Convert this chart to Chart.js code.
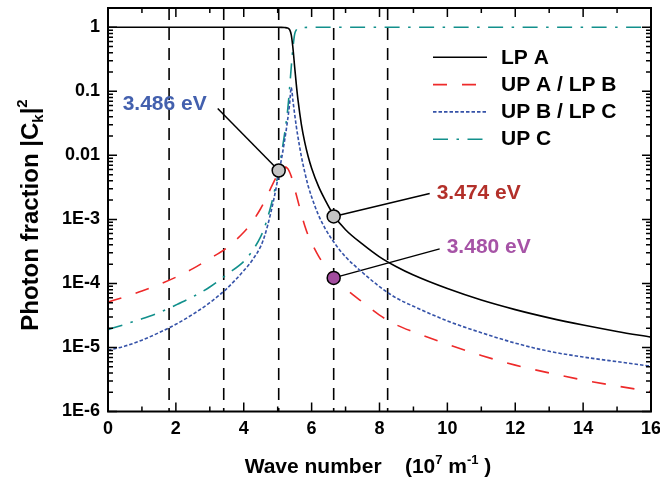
<!DOCTYPE html>
<html><head><meta charset="utf-8">
<script src="https://cdn.jsdelivr.net/npm/chart.js@4.4.1/dist/chart.umd.min.js"></script>
<style>html,body{margin:0;padding:0;background:#fff}#wrap{width:660px;height:480px}</style>
</head><body><div id="wrap"><canvas id="c" width="660" height="480"></canvas></div>
<script>
// ---------- data ----------
const X = [0, 0.5, 1, 1.5, 2, 2.5, 3, 3.5, 4, 4.25, 4.5, 4.6, 4.7, 4.8, 4.9, 5.0, 5.1, 5.2, 5.3, 5.35, 5.4, 5.45, 5.5, 5.55, 5.6, 5.7, 5.8, 5.9, 6.0, 6.2, 6.4, 6.67, 7, 7.5, 8, 8.5, 9, 10, 11, 12, 13, 14, 15, 16];
const LP_A = [1, 1, 1, 1, 1, 1, 1, 1, 1, 1, 1, 1, 1, 1, 1, 0.999, 0.997, 0.99, 0.97, 0.92, 0.76, 0.47, 0.24, 0.126, 0.072, 0.030, 0.0158, 9.5e-3, 6.3e-3, 3.3e-3, 2.0e-3, 1.12e-3, 6.9e-4, 4.1e-4, 2.6e-4, 1.82e-4, 1.35e-4, 8.3e-5, 5.5e-5, 3.9e-5, 2.9e-5, 2.24e-5, 1.78e-5, 1.45e-5];
const UPA_LPB = [5.1e-5, 6.2e-5, 7.6e-5, 9.6e-5, 1.25e-4, 1.7e-4, 2.45e-4, 3.6e-4, 6.3e-4, 9.1e-4, 1.48e-3, 1.86e-3, 2.4e-3, 3.1e-3, 4.0e-3, 5.0e-3, 6.0e-3, 6.6e-3, 6.2e-3, 5.5e-3, 4.7e-3, 3.8e-3, 3.0e-3, 2.4e-3, 1.9e-3, 1.2e-3, 7.9e-4, 5.6e-4, 4.3e-4, 2.7e-4, 1.86e-4, 1.23e-4, 8.3e-5, 5.1e-5, 3.2e-5, 2.25e-5, 1.75e-5, 1.12e-5, 7.5e-6, 5.3e-6, 4.0e-6, 3.1e-6, 2.5e-6, 2.05e-6];
const UPB_LPC = [9.0e-6, 1.05e-5, 1.3e-5, 1.7e-5, 2.3e-5, 3.3e-5, 5.0e-5, 8.3e-5, 1.58e-4, 2.3e-4, 3.8e-4, 5.2e-4, 7.9e-4, 1.29e-3, 2.24e-3, 4.2e-3, 8.1e-3, 0.0166, 0.038, 0.063, 0.115, 0.071, 0.044, 0.028, 0.019, 9.5e-3, 5.4e-3, 3.3e-3, 2.24e-3, 1.17e-3, 7.2e-4, 4.3e-4, 2.6e-4, 1.48e-4, 8.9e-5, 5.9e-5, 4.4e-5, 2.6e-5, 1.7e-5, 1.17e-5, 8.7e-6, 7.1e-6, 6.0e-6, 5.1e-6];
const UP_C = [1.9e-5, 2.3e-5, 2.8e-5, 3.5e-5, 4.6e-5, 6.2e-5, 8.8e-5, 1.38e-4, 2.2e-4, 3.2e-4, 5.4e-4, 7.2e-4, 1.05e-3, 1.62e-3, 2.7e-3, 4.7e-3, 9.8e-3, 0.021, 0.055, 0.11, 0.24, 0.48, 0.78, 0.91, 0.964, 0.986, 0.993, 0.996, 0.998, 0.999, 1, 1, 1, 1, 1, 1, 1, 1, 1, 1, 1, 1, 1, 1];
const SERIES_NAMES = ['LP A', 'UP A / LP B', 'UP B / LP C', 'UP C'];
const X_TICKS = [0, 2, 4, 6, 8, 10, 12, 14, 16];
const X_TICK_LABELS = ['0', '2', '4', '6', '8', '10', '12', '14', '16'];
const Y_TICK_VALUES = [1e-6, 1e-5, 1e-4, 1e-3, 0.01, 0.1, 1];
const Y_TICK_LABELS = ['1E-6', '1E-5', '1E-4', '1E-3', '0.01', '0.1', '1'];
const DASHED_X = [1.80, 3.41, 5.03, 6.65, 8.24];
const MARK_X = [5.03, 6.65, 6.65];
const MARK_Y = [5.8e-3, 1.11e-3, 1.22e-4];
const MARK_LABELS = ['3.486 eV', '3.474 eV', '3.480 eV'];

// ---------- styles ----------
const FAM = '"Liberation Sans", Arial, Helvetica, sans-serif';
const COLORS = ['#000000', '#ee2a2a', '#3552a8', '#12908c'];
const DASHES = [[], [14, 15], [3.5, 2], [15, 8.5, 2.5, 8.5]];
const MARK_FILL = ['#c4c4c4', '#c4c4c4', '#a24c9e'];
const MARK_TEXT_COLOR = ['#4360ae', '#b3302a', '#a653a6'];
// leader end offsets and label anchors relative to the marker (pixels)
const LEADER = [{dx: -61, dy: -62}, {dx: 96, dy: -23}, {dx: 106, dy: -29}];
const LABEL = [{dx: -114, dy: -66, align: 'center'}, {dx: 103, dy: -23, align: 'left'}, {dx: 113, dy: -31, align: 'left'}];

function mk(i, vals) {
  return {
    label: SERIES_NAMES[i],
    data: X.map((x, k) => ({x: x, y: vals[k]})),
    borderColor: COLORS[i], borderWidth: 1.6, borderDash: DASHES[i],
    pointRadius: 0, fill: false, cubicInterpolationMode: 'monotone', order: 2
  };
}

function labelFor(v) {
  const i = Y_TICK_VALUES.findIndex(t => Math.abs(Math.log10(t) - Math.log10(v)) < 1e-6);
  return i >= 0 ? Y_TICK_LABELS[i] : '';
}

function drawRuns(ctx, runs, x, y) {
  let cx = x;
  runs.forEach(r => {
    ctx.font = 'bold ' + r.s + 'px ' + FAM;
    ctx.fillText(r.t, cx, y + (r.dy || 0));
    cx += ctx.measureText(r.t).width;
  });
}
function runsWidth(ctx, runs) {
  let w = 0;
  runs.forEach(r => { ctx.font = 'bold ' + r.s + 'px ' + FAM; w += ctx.measureText(r.t).width; });
  return w;
}

const overlay = {
  id: 'overlay',
  beforeDatasetsDraw(chart) {
    const ctx = chart.ctx, a = chart.chartArea, xs = chart.scales.x, ys = chart.scales.y;
    ctx.save();
    ctx.strokeStyle = '#000';
    ctx.lineWidth = 1.6;
    ctx.setLineDash([12, 8]);
    DASHED_X.forEach(v => {
      const px = xs.getPixelForValue(v);
      ctx.beginPath(); ctx.moveTo(px, a.top); ctx.lineTo(px, a.bottom); ctx.stroke();
    });
    ctx.setLineDash([]);
    ctx.lineWidth = 1.5;
    MARK_X.forEach((v, i) => {
      const px = xs.getPixelForValue(v), py = ys.getPixelForValue(MARK_Y[i]);
      ctx.beginPath(); ctx.moveTo(px, py); ctx.lineTo(px + LEADER[i].dx, py + LEADER[i].dy); ctx.stroke();
    });
    ctx.restore();
  },
  afterDraw(chart) {
    const ctx = chart.ctx, a = chart.chartArea, xs = chart.scales.x, ys = chart.scales.y;
    ctx.save();
    // frame
    ctx.strokeStyle = '#000'; ctx.lineWidth = 2; ctx.setLineDash([]);
    ctx.strokeRect(a.left, a.top, a.right - a.left, a.bottom - a.top);
    // inward ticks
    ctx.lineWidth = 1.5;
    ctx.beginPath();
    for (let v = 0; v <= 16; v++) {
      const px = xs.getPixelForValue(v);
      const len = (v % 2 === 0) ? 9 : 5;
      ctx.moveTo(px, a.bottom); ctx.lineTo(px, a.bottom - len);
      ctx.moveTo(px, a.top); ctx.lineTo(px, a.top + len);
    }
    for (let e = -6; e <= 0; e++) {
      for (let m = 1; m <= 9; m++) {
        const v = m * Math.pow(10, e);
        if (v > 2.0001) continue;
        const py = ys.getPixelForValue(v);
        const len = (m === 1) ? 9 : 5;
        ctx.moveTo(a.left, py); ctx.lineTo(a.left + len, py);
        ctx.moveTo(a.right, py); ctx.lineTo(a.right - len, py);
      }
    }
    ctx.stroke();
    // marker labels
    ctx.textBaseline = 'middle';
    ctx.font = 'bold 21px ' + FAM;
    MARK_X.forEach((v, i) => {
      const px = xs.getPixelForValue(v), py = ys.getPixelForValue(MARK_Y[i]);
      ctx.fillStyle = MARK_TEXT_COLOR[i];
      ctx.textAlign = LABEL[i].align;
      ctx.fillText(MARK_LABELS[i], px + LABEL[i].dx, py + LABEL[i].dy);
    });
    // legend
    const rows = [57.3, 84.6, 111.9, 139.2];
    chart.data.datasets.slice(0, 4).forEach((ds, i) => {
      ctx.strokeStyle = ds.borderColor; ctx.lineWidth = ds.borderWidth;
      ctx.setLineDash(ds.borderDash);
      ctx.beginPath(); ctx.moveTo(433, rows[i]); ctx.lineTo(487, rows[i]); ctx.stroke();
      ctx.setLineDash([]);
      ctx.fillStyle = '#000'; ctx.textAlign = 'left'; ctx.textBaseline = 'middle';
      ctx.font = 'bold 21px ' + FAM;
      ctx.fillText(ds.label, 501, rows[i] + 0.5);
    });
    // axis titles
    ctx.fillStyle = '#000'; ctx.textAlign = 'left'; ctx.textBaseline = 'alphabetic';
    const xr = [{t: 'Wave number    (10', s: 21}, {t: '7', s: 13, dy: -9}, {t: ' m', s: 21}, {t: '-1', s: 13, dy: -9}, {t: ' )', s: 21}];
    const xw = runsWidth(ctx, xr);
    drawRuns(ctx, xr, 368 - xw / 2, 473);
    const yr = [{t: 'Photon fraction |C', s: 24}, {t: 'k', s: 15, dy: 5}, {t: '|', s: 24}, {t: '2', s: 15, dy: -11}];
    const yw = runsWidth(ctx, yr);
    ctx.translate(29, 215);
    ctx.rotate(-Math.PI / 2);
    drawRuns(ctx, yr, -yw / 2, 8.5);
    ctx.restore();
  }
};

const tickFont = {family: FAM, size: 18, weight: 'bold', lineHeight: 1};

new Chart(document.getElementById('c'), {
  type: 'line',
  data: {
    datasets: [
      mk(0, LP_A), mk(1, UPA_LPB), mk(2, UPB_LPC), mk(3, UP_C),
      {
        label: 'markers',
        data: MARK_X.map((x, i) => ({x: x, y: MARK_Y[i]})),
        showLine: false, pointRadius: 6.5, pointHoverRadius: 6.5,
        pointBackgroundColor: MARK_FILL, pointBorderColor: '#000', pointBorderWidth: 1.5,
        order: 0, clip: false
      }
    ]
  },
  options: {
    responsive: false, animation: false, devicePixelRatio: 1,
    events: [],
    layout: {padding: {top: 7, right: 9, left: 0, bottom: 0}},
    plugins: {legend: {display: false}, tooltip: {enabled: false}},
    scales: {
      x: {
        type: 'linear', min: 0, max: 16,
        grid: {display: false, drawTicks: false}, border: {display: false},
        afterBuildTicks: s => { s.ticks = X_TICKS.map(v => ({value: v})); },
        afterFit: s => { s.height = 68.5; s.paddingLeft = 0; s.paddingRight = 0; },
        ticks: {font: tickFont, color: '#000', padding: 8.5, maxRotation: 0, autoSkip: false,
                callback: v => X_TICK_LABELS[X_TICKS.indexOf(v)]}
      },
      y: {
        type: 'logarithmic', min: 1e-6, max: 2,
        grid: {display: false, drawTicks: false}, border: {display: false},
        afterBuildTicks: s => { s.ticks = Y_TICK_VALUES.map(v => ({value: v})); },
        afterFit: s => { s.width = 108; s.paddingTop = 0; s.paddingBottom = 0; },
        ticks: {font: tickFont, color: '#000', padding: 8, autoSkip: false, callback: v => labelFor(v)}
      }
    }
  },
  plugins: [overlay]
});
</script>
</body></html>
